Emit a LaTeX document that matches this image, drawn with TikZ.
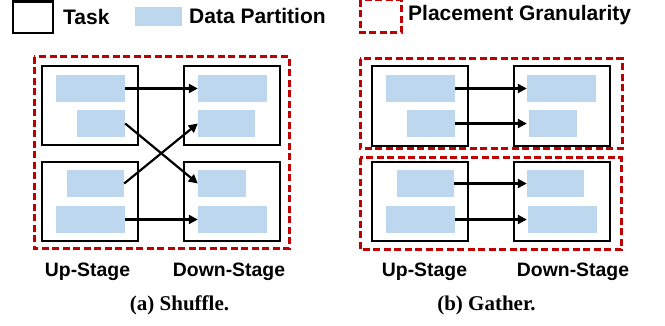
\documentclass[tikz,border=0pt]{standalone}
\usepackage{fontspec}
\setsansfont{Liberation Sans}
\setmainfont{Liberation Serif}
\usetikzlibrary{arrows.meta}
\definecolor{partblue}{RGB}{189,215,238}
\definecolor{granred}{RGB}{192,0,0}
\tikzset{
  taskbox/.style={draw=black,line width=2.3pt},
  partbox/.style={fill=partblue,draw=none},
  granbox/.style={draw=granred,line width=3pt,dash pattern=on 7pt off 3.5pt},
  flow/.style={-{Triangle[length=9pt,width=9pt]},line width=2.2pt},
  legtext/.style={anchor=west,inner sep=0pt,font=\sffamily\bfseries\fontsize{21}{24}\selectfont},
  stagetext/.style={inner sep=0pt,font=\sffamily\bfseries\fontsize{19.4}{22}\selectfont},
  captext/.style={inner sep=0pt,font=\rmfamily\bfseries\fontsize{21}{24}\selectfont},
}
\begin{document}
\begin{tikzpicture}[x=1pt,y=-1pt]
\useasboundingbox (0,0) rectangle (665,326);
% legend
\draw[taskbox] (13,1.5) rectangle (53,33);
\node[legtext] (lt) at (63,17) {Task};
\fill[partbox] (135,7) rectangle (182,26);
\node[legtext] (ld) at (189,16) {Data Partition};
\draw[granbox] (360,0) rectangle (401,33);
\node[legtext] (lg) at (408,15) {Placement Granularity};

% ---- (a) Shuffle
\draw[granbox] (34,57) rectangle (289,249);
\draw[taskbox] (42,66) rectangle (138,145);
\draw[taskbox] (42,162) rectangle (138,241);
\draw[taskbox] (184,66) rectangle (280,145);
\draw[taskbox] (184,162) rectangle (280,241);
\node[partbox,minimum width=69pt,minimum height=27pt,inner sep=0pt] (a1) at (90.5,88.5) {};
\node[partbox,minimum width=48pt,minimum height=27pt,inner sep=0pt] (a2) at (101,123.5) {};
\node[partbox,minimum width=57pt,minimum height=27pt,inner sep=0pt] (a3) at (95.5,183.5) {};
\node[partbox,minimum width=69pt,minimum height=27pt,inner sep=0pt] (a4) at (90.5,219.5) {};
\node[partbox,minimum width=69pt,minimum height=27pt,inner sep=0pt] (b1) at (232.5,88.5) {};
\node[partbox,minimum width=57pt,minimum height=27pt,inner sep=0pt] (b2) at (226.5,123.5) {};
\node[partbox,minimum width=48pt,minimum height=27pt,inner sep=0pt] (b3) at (222,183.5) {};
\node[partbox,minimum width=69pt,minimum height=27pt,inner sep=0pt] (b4) at (232.5,219.5) {};
\draw[flow] (a1.east) -- (b1.west);
\draw[flow] (a2.east) -- (b3.west);
\draw[flow] (a3.east) -- (b2.west);
\draw[flow] (a4.east) -- (b4.west);
\node[stagetext] (au) at (87.5,272) {Up-Stage};
\node[stagetext] (ad) at (229,272) {Down-Stage};
\node[captext] (ac) at (179.5,305) {(a) Shuffle.};

% ---- (b) Gather
\draw[granbox] (360,59) rectangle (622,149);
\draw[granbox] (360,158) rectangle (621,250);
\draw[taskbox] (372,66) rectangle (468,146);
\draw[taskbox] (514,66) rectangle (610,146);
\draw[taskbox] (372,162) rectangle (468,241);
\draw[taskbox] (514,162) rectangle (610,241);
\node[partbox,minimum width=69pt,minimum height=27pt,inner sep=0pt] (c1) at (420.5,88.5) {};
\node[partbox,minimum width=48pt,minimum height=27pt,inner sep=0pt] (c2) at (431,123.5) {};
\node[partbox,minimum width=57pt,minimum height=27pt,inner sep=0pt] (c3) at (425.5,183.5) {};
\node[partbox,minimum width=69pt,minimum height=27pt,inner sep=0pt] (c4) at (420.5,219.5) {};
\node[partbox,minimum width=69pt,minimum height=27pt,inner sep=0pt] (d1) at (561.5,88.5) {};
\node[partbox,minimum width=48pt,minimum height=27pt,inner sep=0pt] (d2) at (553,123.5) {};
\node[partbox,minimum width=57pt,minimum height=27pt,inner sep=0pt] (d3) at (555.5,183.5) {};
\node[partbox,minimum width=69pt,minimum height=27pt,inner sep=0pt] (d4) at (562.5,219.5) {};
\draw[flow] (c1.east) -- (c1.east -| d1.west);
\draw[flow] (c2.east) -- (c2.east -| d1.west);
\draw[flow] (c3.east) -- (c3.east -| d1.west);
\draw[flow] (c4.east) -- (c4.east -| d1.west);
\node[stagetext] (bu) at (424.5,272) {Up-Stage};
\node[stagetext] (bd) at (573,272) {Down-Stage};
\node[captext] (bc) at (486.5,305) {(b) Gather.};
\end{tikzpicture}
\end{document}
